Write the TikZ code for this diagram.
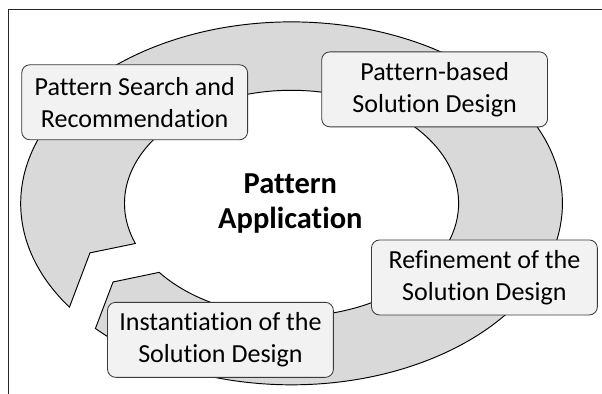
\documentclass[tikz,border=0pt]{standalone}
\usepackage{fontspec}
\setmainfont{Carlito}[Ligatures = CommonOff]
\definecolor{ringgray}{HTML}{D9D9D9}
\definecolor{boxgray}{HTML}{F2F2F2}
\definecolor{edgegray}{HTML}{3A3A3A}
\usetikzlibrary{positioning, calc}
\tikzset{
  stage/.style = {rectangle, rounded corners = 0.27cm, draw = edgegray, line width = 0.8pt, fill = boxgray, minimum width = 7.53cm, minimum height = 2.5cm, align = center, font = \fontsize{24.7}{30.4}\selectfont},
}

\begin{document}
\begin{tikzpicture}
\useasboundingbox (0,0) rectangle (20.07,13.13);
\draw[line width = 0.7pt, color = black!85] (0.27,0) |- (20.07,12.82);
\coordinate (ctr) at (9.72,6.35);
\coordinate (notch) at (3.0,4.7);
\coordinate (head) at (3.77,3.73);
% ring with its arrow end at the lower left
\draw[fill = ringgray, line width = 0.9pt] ([shift={(214.9:9.03 and 6.05)}]ctr) arc[start angle = 214.9, end angle = -136.4, x radius = 9.03, y radius = 6.05] -- (head) -- ([shift={(217.6:5.57 and 3.77)}]ctr) arc[start angle = -142.4, end angle = 200.8, x radius = 5.57, y radius = 3.77] -- (notch) -- cycle;
\node[font = \bfseries\fontsize{28.9}{33.2}\selectfont, align = center] (core) at (9.68,6.33) {Pattern\\Application};
\node[stage] (search) at (4.49,9.72) {Pattern Search and\\Recommendation};
\node[stage] (design) at (14.49,10.15) {Pattern-based\\Solution Design};
\node[stage] (refine) at (16.15,3.88) {Refinement of the\\Solution Design};
\node[stage] (inst) at (7.35,1.8) {Instantiation of the\\Solution Design};
\end{tikzpicture}
\end{document}
